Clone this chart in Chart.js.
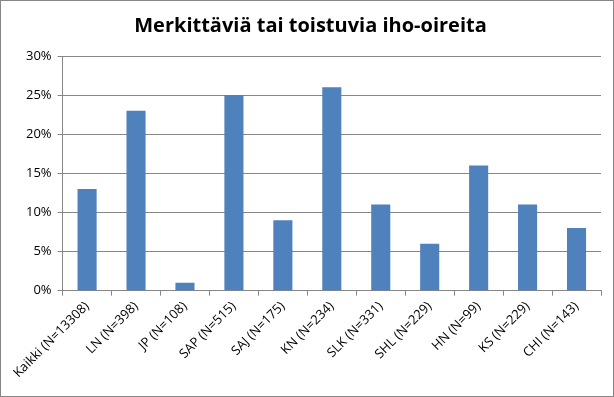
<!DOCTYPE html>
<html>
<head>
<meta charset="utf-8">
<script src="https://cdn.jsdelivr.net/npm/chart.js@4.4.0/dist/chart.umd.min.js"></script>
<style>
  html, body { margin: 0; padding: 0; background: #fff; }
  #wrap { width: 612px; height: 395px; border: 1px solid #868686; }
</style>
</head>
<body>
<div id="wrap"><canvas id="chart" width="612" height="395"></canvas></div>
<script>
const labels = ['Kaikki (N=13308)', 'LN (N=398)', 'JP (N=108)', 'SAP (N=515)', 'SAJ (N=175)', 'KN (N=234)',
                'SLK (N=331)', 'SHL (N=229)', 'HN (N=99)', 'KS (N=229)', 'CHI (N=143)']
const values = [13, 23, 1, 25, 9, 26, 11, 6, 16, 11, 8]   // prosentteja
const yTicks = [0, 5, 10, 15, 20, 25, 30]

const fontName = "'Open Sans', 'DejaVu Sans', sans-serif"

var chart = new Chart(
    document.getElementById('chart'),
    {
        type: 'bar',
        data: {
            labels: labels,
            datasets: [{
                backgroundColor: '#4F81BD',
                data: values,
                barPercentage: 0.39,
                categoryPercentage: 1.0
            }]
        },
        options: {
            responsive: false,
            animation: false,
            layout: {
                padding: { left: 19, right: 12, top: 8, bottom: 12 }
            },
            scales: {
                x: {
                    grid: {
                        display: true,
                        drawOnChartArea: false,
                        drawTicks: true,
                        tickLength: 5,
                        color: '#868686',
                        offset: true
                    },
                    border: { color: '#868686' },
                    ticks: {
                        color: '#000',
                        maxRotation: 45,
                        minRotation: 45,
                        font: { family: fontName, size: 13 }
                    }
                },
                y: {
                    min: 0,
                    max: 30,
                    afterBuildTicks: function (axis) {
                        axis.ticks = yTicks.map(v => ({ value: v }))
                    },
                    grid: {
                        color: '#868686',
                        tickLength: 5
                    },
                    border: { color: '#868686' },
                    ticks: {
                        color: '#000',
                        padding: 6,
                        font: { family: fontName, size: 13 },
                        callback: function (v) { return v + '%' }
                    }
                }
            },
            plugins: {
                legend: { display: false },
                tooltip: { enabled: false },
                title: {
                    display: true,
                    text: 'Merkittäviä tai toistuvia iho-oireita',
                    color: '#000',
                    font: { family: fontName, size: 20, weight: 'bold' },
                    padding: { top: 5, bottom: 18 }
                }
            }
        }
    }
);
</script>
</body>
</html>
